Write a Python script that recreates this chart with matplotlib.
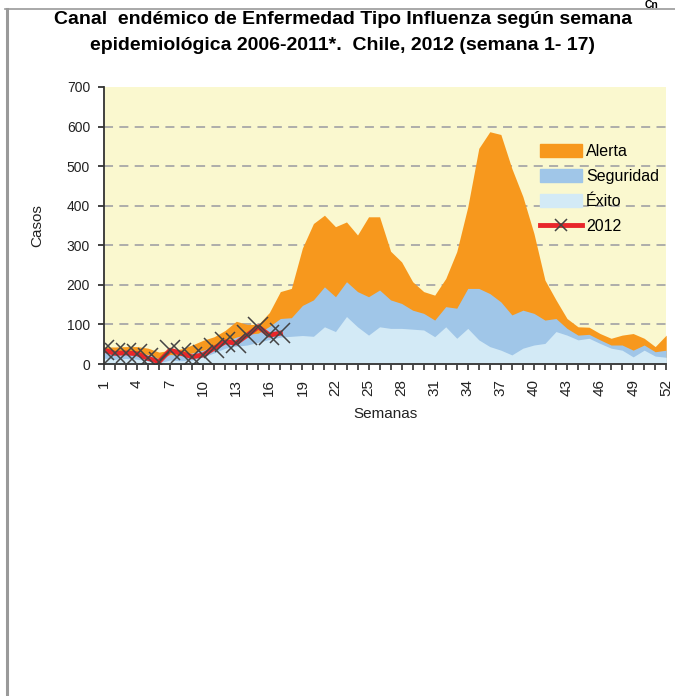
import matplotlib
matplotlib.use("Agg")
import matplotlib.pyplot as plt
from matplotlib.lines import Line2D
from matplotlib.patches import Patch

plt.rcParams["font.family"] = ["Liberation Sans", "DejaVu Sans"]

# Semanas epidemiológicas
semanas = list(range(1, 53))

# Límites superiores del canal endémico 2006-2011
alerta = [43, 43, 44, 44, 40, 30, 35, 38, 48, 60, 69, 85, 108, 100, 100, 130, 183,
          191, 293, 355, 376, 347, 359, 326, 372, 372, 285, 258, 208, 183, 174,
          216, 284, 397, 545, 587, 580, 494, 423, 330, 212, 162, 115, 94, 93, 77,
          65, 73, 77, 65, 44, 73]
seguridad = [30, 27, 30, 28, 24, 14, 24, 22, 28, 35, 45, 58, 68, 75, 78, 95, 115,
             117, 148, 162, 195, 170, 208, 183, 170, 187, 162, 153, 136, 128, 111,
             145, 141, 191, 191, 178, 157, 124, 136, 128, 111, 115, 90, 73, 75, 61,
             48, 48, 35, 48, 31, 35]
exito = [15, 12, 14, 12, 8, 3, 10, 8, 10, 18, 28, 40, 45, 48, 55, 62, 68, 70, 72,
         70, 94, 82, 120, 94, 73, 94, 90, 90, 88, 86, 69, 94, 65, 90, 61, 44, 35,
         23, 40, 48, 52, 82, 73, 61, 65, 52, 40, 35, 18, 35, 20, 17]

# Casos 2012 (semanas 1-17)
semanas_2012 = list(range(1, 18))
casos_2012 = [35, 27, 28, 26, 14, 6, 35, 27, 18, 23, 40, 56, 53, 73, 94, 73, 78]

x_labels = list(range(1, 53, 3))

fig = plt.figure(figsize=(6.75, 6.96), dpi=100)
ax = fig.add_axes([0.154, 0.477, 0.833, 0.398])
ax.set_facecolor("#FAF8CF")

# Marco de la página
fig.add_artist(Line2D([0.008, 1.0], [0.987, 0.987], color="#9A9A9A", lw=1.2))
fig.add_artist(Line2D([0.010, 0.010], [0.0, 0.987], color="#9A9A9A", lw=2.2))
fig.text(0.955, 0.9995, "Cn", fontsize=7.5, fontweight="bold", ha="left", va="top")

ax.fill_between(semanas, 0, alerta, color="#F7981D", lw=0, zorder=2)
ax.fill_between(semanas, 0, seguridad, color="#A0C6E8", lw=0, zorder=3)
ax.fill_between(semanas, 0, exito, color="#D3EAF6", lw=0, zorder=4)
ax.plot(semanas_2012, casos_2012, color="#E8262A", lw=3.5, zorder=5)
ax.plot(semanas_2012, casos_2012, ls="none", marker="x", ms=14, mec="#444444",
        mew=1.1, zorder=6)

for y in range(100, 700, 100):
    ax.axhline(y, color="#A8A8A8", lw=1.3, ls=(0, (5, 3.5)), zorder=1)

ax.set_xlim(1, 52)
ax.set_ylim(0, 700)
ax.set_yticks(range(0, 800, 100))
ax.set_xticks(x_labels)
ax.set_xticks(semanas, minor=True)
ax.set_xticklabels([str(v) for v in x_labels], rotation=90, fontsize=11,
                   color="#222222")
ax.tick_params(axis="y", labelsize=10, colors="#222222", length=4, width=1.2,
               pad=6)
ax.tick_params(axis="x", which="both", length=4, width=1.2, color="#333333",
               pad=7)
for s in ["top", "right"]:
    ax.spines[s].set_visible(False)
for s in ["left", "bottom"]:
    ax.spines[s].set_color("#333333")
    ax.spines[s].set_linewidth(1.3)
    ax.spines[s].set_zorder(7)

ax.set_ylabel("Casos", fontsize=11, color="#222222", labelpad=16)
ax.set_xlabel("Semanas", fontsize=11, color="#222222", labelpad=8)

fig.text(0.508, 0.972, "Canal  endémico de Enfermedad Tipo Influenza según semana",
         ha="center", va="center", fontsize=14, fontweight="bold")
fig.text(0.508, 0.934, "epidemiológica 2006-2011*.  Chile, 2012 (semana 1- 17)",
         ha="center", va="center", fontsize=14, fontweight="bold")

handles = [
    Patch(color="#F7981D", label="Alerta"),
    Patch(color="#A0C6E8", label="Seguridad"),
    Patch(color="#D3EAF6", label="Éxito"),
    Line2D([], [], color="#E8262A", lw=3.5, marker="x", ms=9, mec="#444444",
           mew=1.1, label="2012"),
]
ax.legend(handles=handles, loc="upper left", bbox_to_anchor=(0.765, 0.818),
          frameon=False, fontsize=11.5, handlelength=2.6, handleheight=0.9,
          labelspacing=0.62, handletextpad=0.25, borderaxespad=0)

fig.savefig("out.png", dpi=100)
